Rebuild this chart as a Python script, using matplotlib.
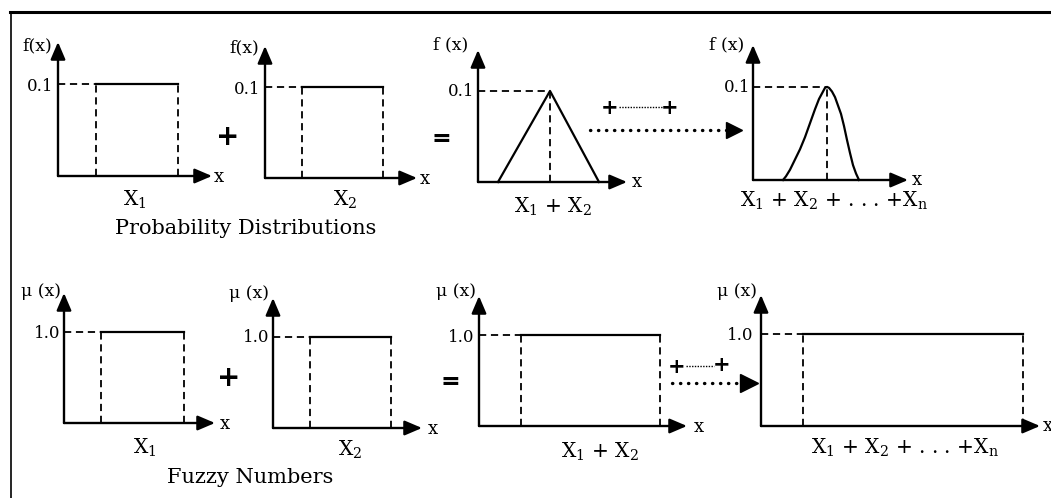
import matplotlib
matplotlib.use('Agg')
import matplotlib.pyplot as plt

plt.rcParams['font.family'] = ['DejaVu Serif']
plt.rcParams['mathtext.fontset'] = 'dejavuserif'

W, H = 1051, 498

# --- values (x in arbitrary units along each axis) ---
top_level = 0.1
bottom_level = 1.0
top_ymax = 0.145
bottom_ymax = 1.43

# rectangles (uniform pdf / interval fuzzy numbers): [start, end]
p1_support = [3.8, 12.0]
p2_support = [3.7, 11.8]
p5_support = [3.7, 12.0]
p6_support = [3.7, 11.8]
p7_support = [4.2, 18.1]
p8_support = [4.2, 26.2]

# triangle for X1 + X2
tri_x = [2.0, 7.2, 12.1]
tri_y = [0.0, 0.1, 0.0]

# bell shape for X1 + ... + Xn
bell_x = [3.0, 3.3, 3.7, 4.2, 4.7, 5.2, 5.7, 6.2, 6.6, 6.9, 7.2, 7.4,
          7.6, 7.9, 8.2, 8.5, 8.8, 9.1, 9.4, 9.7, 10.0, 10.3, 10.6]
bell_y = [0.0, 0.004, 0.011, 0.022, 0.033, 0.046, 0.061, 0.076, 0.087, 0.093, 0.099, 0.100,
          0.099, 0.095, 0.089, 0.080, 0.071, 0.058, 0.043, 0.029, 0.016, 0.007, 0.0]

# axis lengths per panel
top_xmax = [15.4, 15.2, 14.9, 15.5]
bottom_xmax = [15.1, 14.9, 20.8, 27.9]

fig = plt.figure(figsize=(W / 100, H / 100), dpi=100)

# background axes in pixel units for the frame and the operator signs
bg = fig.add_axes([0, 0, 1, 1])
bg.set_xlim(0, W)
bg.set_ylim(H, 0)
bg.set_axis_off()

DASH = (0, (4, 2.6))
LW = 1.6


def panel(ox, oy, ty, xmax, ymax):
    ax = fig.add_axes([ox / W, 1 - oy / H, xmax * 10 / W, (oy - ty) / H])
    ax.set_xlim(0, xmax)
    ax.set_ylim(0, ymax)
    ax.set_axis_off()
    ap = dict(arrowstyle='-|>,head_length=0.75,head_width=0.32', lw=1.7,
              color='k', shrinkA=0, shrinkB=0, mutation_scale=14)
    ax.annotate('', xy=(xmax, 0), xytext=(0, 0), arrowprops=ap, annotation_clip=False)
    ax.annotate('', xy=(0, ymax), xytext=(0, 0), arrowprops=ap, annotation_clip=False)
    return ax


def rect(ax, support, level):
    a, b = support
    ax.plot([0, a], [level, level], color='k', lw=1.3, ls=DASH, clip_on=False)
    ax.plot([a, a], [0, level], color='k', lw=1.3, ls=DASH, clip_on=False)
    ax.plot([b, b], [0, level], color='k', lw=1.3, ls=DASH, clip_on=False)
    ax.plot([a, b], [level, level], color='k', lw=LW, clip_on=False)


def peaked(ax, xs, ys, level):
    px = xs[ys.index(max(ys))]
    ax.plot([0, px], [level, level], color='k', lw=1.3, ls=DASH, clip_on=False)
    ax.plot([px, px], [0, level], color='k', lw=1.3, ls=DASH, clip_on=False)
    ax.plot(xs, ys, color='k', lw=LW, solid_joinstyle='round', clip_on=False)


def t(x, y, s, size, **kw):
    fig.text(x / W, 1 - y / H, s, fontsize=size, ha=kw.pop('ha', 'center'),
             va=kw.pop('va', 'center'), **kw)


# ---- top row: probability distributions ----
a1 = panel(58, 176, 42, top_xmax[0], top_ymax)
rect(a1, p1_support, top_level)
a2 = panel(265, 178, 46, top_xmax[1], top_ymax)
rect(a2, p2_support, top_level)
a3 = panel(478, 182, 50, top_xmax[2], top_ymax)
peaked(a3, tri_x, tri_y, top_level)
a4 = panel(753, 180, 45, top_xmax[3], top_ymax)
peaked(a4, bell_x, bell_y, top_level)

# ---- bottom row: fuzzy numbers ----
b1 = panel(64, 423, 293, bottom_xmax[0], bottom_ymax)
rect(b1, p5_support, bottom_level)
b2 = panel(273, 428, 298, bottom_xmax[1], bottom_ymax)
rect(b2, p6_support, bottom_level)
b3 = panel(479, 426, 296, bottom_xmax[2], bottom_ymax)
rect(b3, p7_support, bottom_level)
b4 = panel(761, 426, 295, bottom_xmax[3], bottom_ymax)
rect(b4, p8_support, bottom_level)

# ---- labels ----
for x, y, s in [(37, 46, 'f(x)'), (244, 48, 'f(x)'), (451, 45, 'f (x)'), (727, 45, 'f (x)'),
                (41, 292, 'μ (x)'), (249, 293, 'μ (x)'), (456, 292, 'μ (x)'), (737, 292, 'μ (x)')]:
    t(x, y, s, 12.5)
for x, y in [(40, 86), (247, 89), (461, 91), (737, 88)]:
    t(x, y, '0.1', 12)
for x, y in [(47, 333), (256, 337), (461, 337), (740, 336)]:
    t(x, y, '1.0', 12)
for x, y in [(219, 177), (425, 179), (637, 182), (917, 180),
             (225, 424), (433, 429), (699, 427)]:
    t(x, y, 'x', 13)
t(1043, 426, 'x', 13, ha='left')

t(135, 200, 'X$_1$', 14.5)
t(345, 200, 'X$_2$', 14.5)
t(553, 207, 'X$_1$ + X$_2$', 14.5)
t(834, 201, 'X$_1$ + X$_2$ + . . . +X$_\\mathrm{n}$', 14.5)
t(145, 448, 'X$_1$', 14.5)
t(350, 450, 'X$_2$', 14.5)
t(600, 452, 'X$_1$ + X$_2$', 14.5)
t(905, 448, 'X$_1$ + X$_2$ + . . . +X$_\\mathrm{n}$', 14.5)

t(246, 228, 'Probability Distributions', 15)
t(250, 477, 'Fuzzy Numbers', 15)

# ---- operators ----
for x, y in [(228, 137), (229, 378)]:
    t(x, y, '+', 20, family='DejaVu Sans', fontweight='bold')
for x, y in [(441, 139), (450, 382)]:
    t(x, y, '=', 17, family='DejaVu Sans', fontweight='bold')
for x, y in [(610, 108), (670, 108), (677, 367), (722, 365)]:
    t(x, y, '+', 15, family='DejaVu Sans', fontweight='bold')

bg.plot([619, 662], [107, 107], color='k', lw=1.0, ls=(0, (1, 1)))
bg.plot([686, 714], [366, 366], color='k', lw=1.0, ls=(0, (1, 1)))

bg.plot([590, 728], [130, 130], color='k', lw=2.4, ls=(0, (0.1, 2.3)), dash_capstyle='round')
bg.plot([734], [130], marker='>', ms=11, color='k')
bg.plot([672, 741], [383, 383], color='k', lw=2.4, ls=(0, (0.1, 2.3)), dash_capstyle='round')
bg.plot([749], [383], marker='>', ms=13, color='k')

# frame
bg.plot([10, W], [12, 12], color='k', lw=2.2)
bg.plot([11, 11], [12, H], color='k', lw=1.2)

fig.savefig('out.png', dpi=100, facecolor='white')
